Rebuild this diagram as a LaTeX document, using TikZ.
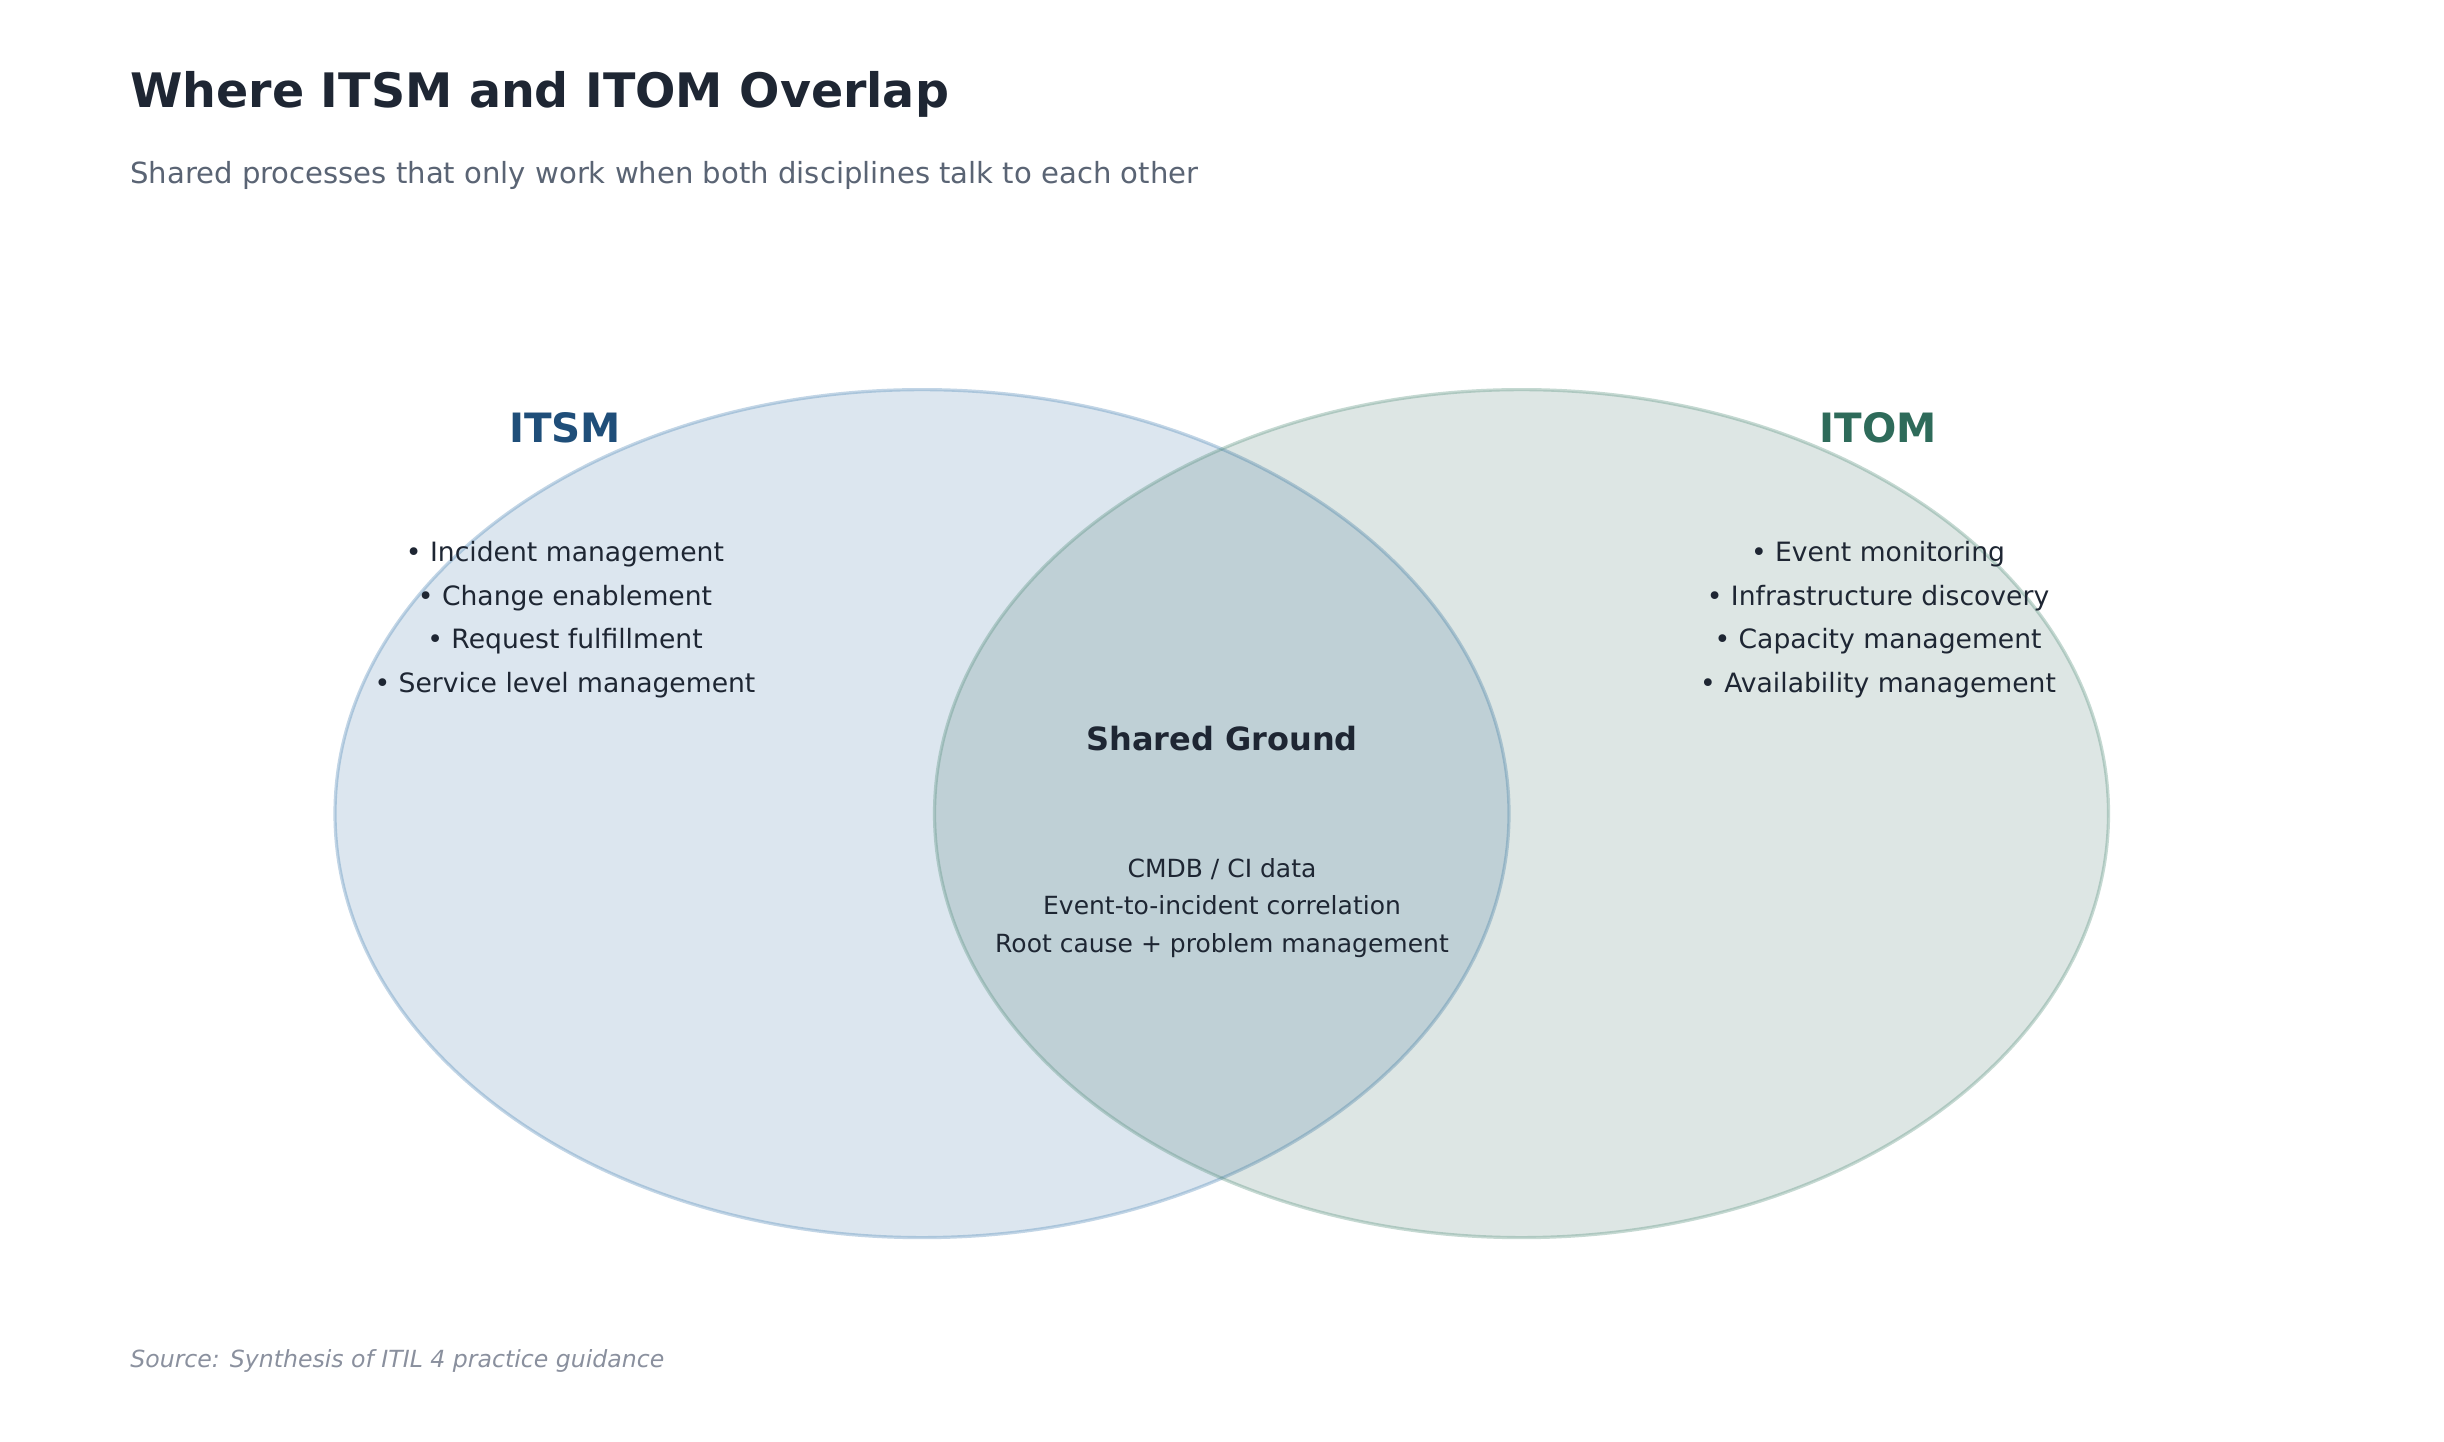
\documentclass[tikz,border=0pt]{standalone}
\usepackage{fontspec}
\setmainfont{DejaVu Sans}
\definecolor{titlec}{HTML}{1E2633}
\definecolor{subc}{HTML}{5A6474}
\definecolor{srcc}{HTML}{8A909E}
\definecolor{itsmc}{HTML}{1F4E79}
\definecolor{itomc}{HTML}{2E6B5A}
\definecolor{itsmfill}{RGB}{24,88,152}
\definecolor{itomfill}{RGB}{28,88,75}
\definecolor{itsmedge}{RGB}{70,130,180}
\definecolor{itomedge}{RGB}{80,140,120}
\definecolor{txtc}{HTML}{1E2633}
\tikzset{
  px/.style={x=0.5pt,y=-0.5pt},
  titletext/.style={anchor=base west,inner sep=0pt,text=titlec,font=\fontsize{23.75}{28}\selectfont\bfseries},
  subtext/.style={anchor=base west,inner sep=0pt,text=subc,font=\fontsize{14.55}{18}\selectfont},
  srctext/.style={anchor=base west,inner sep=0pt,text=srcc,font=\fontsize{11.8}{14}\selectfont\itshape},
  grouphead/.style={anchor=base,inner sep=0pt,font=\fontsize{20.2}{24}\selectfont\bfseries},
  item/.style={anchor=base,inner sep=0pt,text=txtc,font=\fontsize{13.3}{16}\selectfont},
  sharedhead/.style={anchor=base,inner sep=0pt,text=txtc,font=\fontsize{16}{19}\selectfont\bfseries},
  shareditem/.style={anchor=base,inner sep=0pt,text=txtc,font=\fontsize{12.5}{15}\selectfont},
  setfill/.style={fill=#1,fill opacity=0.15},
  setedge/.style={draw=#1,draw opacity=0.33,line width=1.6pt}
}
\begin{document}
\begin{tikzpicture}[px]
\useasboundingbox (0,0) rectangle (2444,1441);
\fill[white] (0,0) rectangle (2444,1441);
% sets
\path[setfill=itsmfill,setedge=itsmedge] (922,813.6) ellipse [x radius=587, y radius=424];
\path[setfill=itomfill,setedge=itomedge] (1521.5,813.6) ellipse [x radius=587, y radius=424];
% title
\node[titletext] (title) at (130,107.7) {Where ITSM and ITOM Overlap};
\node[subtext] (subtitle) at (130,183.6) {Shared processes that only work when both disciplines talk to each other};
% ITSM
\node[grouphead,text=itsmc] (itsm) at (565,442) {ITSM};
\node[item] (i1) at (565,561.5) {• Incident management};
\node[item] (i2) at (565,605.1) {• Change enablement};
\node[item] (i3) at (565,648.7) {• Request fulfillment};
\node[item] (i4) at (565,692.3) {• Service level management};
% ITOM
\node[grouphead,text=itomc] (itom) at (1878,442) {ITOM};
\node[item] (o1) at (1878,561.5) {• Event monitoring};
\node[item] (o2) at (1878,605.1) {• Infrastructure discovery};
\node[item] (o3) at (1878,648.7) {• Capacity management};
\node[item] (o4) at (1878,692.3) {• Availability management};
% shared
\node[sharedhead] (shared) at (1222,750.5) {Shared Ground};
\node[shareditem] (s1) at (1222,877.3) {CMDB / CI data};
\node[shareditem] (s2) at (1222,914.7) {Event-to-incident correlation};
\node[shareditem] (s3) at (1222,952.1) {Root cause + problem management};
% source
\node[srctext] (source) at (130,1367.8) {Source: Synthesis of ITIL 4 practice guidance};
\end{tikzpicture}
\end{document}
